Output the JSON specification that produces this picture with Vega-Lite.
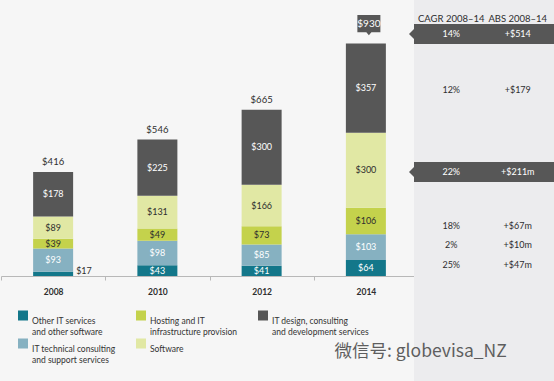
{
  "$schema": "https://vega.github.io/schema/vega-lite/v6.json",
  "background": "#f6f6f6",
  "padding": 0,
  "spacing": 0,
  "bounds": "flush",
  "config": {"view": {"stroke": null}, "font": "Lato"},
  "datasets": {
    "bars": [
      {"year": "2008", "segment": "Other IT services and other software", "rank": 1, "value": 17},
      {"year": "2008", "segment": "IT technical consulting and support services", "rank": 2, "value": 93},
      {"year": "2008", "segment": "Hosting and IT infrastructure provision", "rank": 3, "value": 39},
      {"year": "2008", "segment": "Software", "rank": 4, "value": 89},
      {"year": "2008", "segment": "IT design, consulting and development services", "rank": 5, "value": 178},
      {"year": "2010", "segment": "Other IT services and other software", "rank": 1, "value": 43},
      {"year": "2010", "segment": "IT technical consulting and support services", "rank": 2, "value": 98},
      {"year": "2010", "segment": "Hosting and IT infrastructure provision", "rank": 3, "value": 49},
      {"year": "2010", "segment": "Software", "rank": 4, "value": 131},
      {"year": "2010", "segment": "IT design, consulting and development services", "rank": 5, "value": 225},
      {"year": "2012", "segment": "Other IT services and other software", "rank": 1, "value": 41},
      {"year": "2012", "segment": "IT technical consulting and support services", "rank": 2, "value": 85},
      {"year": "2012", "segment": "Hosting and IT infrastructure provision", "rank": 3, "value": 73},
      {"year": "2012", "segment": "Software", "rank": 4, "value": 166},
      {"year": "2012", "segment": "IT design, consulting and development services", "rank": 5, "value": 300},
      {"year": "2014", "segment": "Other IT services and other software", "rank": 1, "value": 64},
      {"year": "2014", "segment": "IT technical consulting and support services", "rank": 2, "value": 103},
      {"year": "2014", "segment": "Hosting and IT infrastructure provision", "rank": 3, "value": 106},
      {"year": "2014", "segment": "Software", "rank": 4, "value": 300},
      {"year": "2014", "segment": "IT design, consulting and development services", "rank": 5, "value": 357}
    ],
    "totals": [
      {"year": "2008", "total": 416},
      {"year": "2010", "total": 546},
      {"year": "2012", "total": 665},
      {"year": "2014", "total": 930}
    ],
    "table": [
      {"col": "CAGR", "text": "CAGR 2008–14", "level": 1030, "kind": "header"},
      {"col": "ABS", "text": "ABS 2008–14", "level": 1030, "kind": "header"},
      {"col": "CAGR", "text": "14%", "level": 968, "kind": "callout"},
      {"col": "ABS", "text": "+$514", "level": 968, "kind": "callout"},
      {"col": "CAGR", "text": "12%", "level": 744, "kind": "row"},
      {"col": "ABS", "text": "+$179", "level": 744, "kind": "row"},
      {"col": "CAGR", "text": "22%", "level": 416, "kind": "callout"},
      {"col": "ABS", "text": "+$211m", "level": 416, "kind": "callout"},
      {"col": "CAGR", "text": "18%", "level": 200, "kind": "row"},
      {"col": "ABS", "text": "+$67m", "level": 200, "kind": "row"},
      {"col": "CAGR", "text": "2%", "level": 124, "kind": "row"},
      {"col": "ABS", "text": "+$10m", "level": 124, "kind": "row"},
      {"col": "CAGR", "text": "25%", "level": 44, "kind": "row"},
      {"col": "ABS", "text": "+$47m", "level": 44, "kind": "row"}
    ]
  },
  "hconcat": [
    {
      "width": 413,
      "height": 276,
      "layer": [
        {
          "data": {"name": "bars"},
          "transform": [
            {"stack": "value", "groupby": ["year"], "sort": [{"field": "rank", "order": "ascending"}], "as": ["v0", "v1"]}
          ],
          "mark": {"type": "bar", "size": 40},
          "encoding": {
            "x": {
              "field": "year", "type": "ordinal",
              "scale": {"range": [0, 417], "paddingInner": 0, "paddingOuter": 0},
              "axis": {"title": null, "labelAngle": 0, "domainColor": "#b8b8b8", "tickColor": "#b8b8b8", "tickSize": 4, "tickBand": "extent", "labelPadding": 7, "labelFontSize": 8.5, "labelColor": "#2e2e2e", "labelFontWeight": "bold"}
            },
            "y": {"field": "v1", "type": "quantitative", "scale": {"domain": [0, 1104], "nice": false, "zero": false}, "axis": null},
            "y2": {"field": "v0"},
            "color": {
              "field": "segment", "type": "nominal",
              "scale": {
                "domain": ["Other IT services and other software", "Hosting and IT infrastructure provision", "IT design, consulting and development services", "IT technical consulting and support services", "Software"],
                "range": ["#13778a", "#c4d24c", "#575757", "#86b1c1", "#e1e8a4"]
              },
              "legend": {
                "title": null, "orient": "none", "legendX": 17, "legendY": 316, "direction": "horizontal", "columns": 3,
                "symbolType": "M-1,-2.1 L1,-2.1 L1,-0.1 L-1,-0.1 Z", "symbolSize": 100, "symbolStrokeWidth": 0, "symbolOpacity": 1,
                "labelFontSize": 8.5, "labelColor": "#333333", "labelLimit": 250, "labelOffset": 4, "labelBaseline": "middle",
                "rowPadding": 2, "columnPadding": 20, "gridAlign": "each", "padding": 0,
                "labelExpr": "datum.label == 'Other IT services and other software' ? ['Other IT services', 'and other software'] : datum.label == 'Hosting and IT infrastructure provision' ? ['Hosting and IT', 'infrastructure provision'] : datum.label == 'IT design, consulting and development services' ? ['IT design, consulting', 'and development services'] : datum.label == 'IT technical consulting and support services' ? ['IT technical consulting', 'and support services'] : datum.label"
              }
            }
          }
        },
        {
          "data": {"name": "bars"},
          "transform": [
            {"stack": "value", "groupby": ["year"], "sort": [{"field": "rank", "order": "ascending"}], "as": ["v0", "v1"]},
            {"calculate": "(datum.v0 + datum.v1) / 2", "as": "mid"},
            {"filter": "datum.value >= 20"}
          ],
          "mark": {"type": "text", "fontSize": 9, "baseline": "middle"},
          "encoding": {
            "x": {"field": "year", "type": "ordinal"},
            "y": {"field": "mid", "type": "quantitative"},
            "text": {"field": "value", "type": "quantitative", "format": "$,d"},
            "color": {"condition": {"test": "datum.segment == 'Software' || datum.segment == 'Hosting and IT infrastructure provision'", "value": "#2e2e2e"}, "value": "#ffffff"}
          }
        },
        {
          "data": {"name": "bars"},
          "transform": [
            {"stack": "value", "groupby": ["year"], "sort": [{"field": "rank", "order": "ascending"}], "as": ["v0", "v1"]},
            {"calculate": "(datum.v0 + datum.v1) / 2", "as": "mid"},
            {"filter": "datum.value < 20"}
          ],
          "mark": {"type": "text", "fontSize": 9, "baseline": "middle", "align": "left", "dx": 23, "dy": -3, "color": "#2e2e2e"},
          "encoding": {
            "x": {"field": "year", "type": "ordinal"},
            "y": {"field": "mid", "type": "quantitative"},
            "text": {"field": "value", "type": "quantitative", "format": "$,d"}
          }
        },
        {
          "data": {"name": "totals"},
          "transform": [{"filter": "datum.year != '2014'"}],
          "mark": {"type": "text", "fontSize": 9.5, "baseline": "middle", "dy": -10, "color": "#2e2e2e"},
          "encoding": {
            "x": {"field": "year", "type": "ordinal"},
            "y": {"field": "total", "type": "quantitative"},
            "text": {"field": "total", "type": "quantitative", "format": "$,d"}
          }
        },
        {
          "data": {"name": "totals"},
          "transform": [{"filter": "datum.year == '2014'"}],
          "mark": {"type": "point", "filled": true, "opacity": 1, "color": "#575757", "size": 529, "yOffset": -20, "xOffset": 3,
            "shape": "M-1,-0.75 L1,-0.75 L1,0.75 L0.22,0.75 L0,1.02 L-0.22,0.75 L-1,0.75 Z"},
          "encoding": {
            "x": {"field": "year", "type": "ordinal"},
            "y": {"field": "total", "type": "quantitative"}
          }
        },
        {
          "data": {"name": "totals"},
          "transform": [{"filter": "datum.year == '2014'"}],
          "mark": {"type": "text", "fontSize": 10, "baseline": "middle", "dy": -20, "dx": 3, "color": "#ffffff"},
          "encoding": {
            "x": {"field": "year", "type": "ordinal"},
            "y": {"field": "total", "type": "quantitative"},
            "text": {"field": "total", "type": "quantitative", "format": "$,d"}
          }
        }
      ]
    },
    {
      "width": 141,
      "height": 381,
      "view": {"fill": "#ececee", "stroke": null},
      "data": {"name": "table"},
      "layer": [
        {
          "transform": [
            {"filter": "datum.kind == 'callout' && datum.col == 'CAGR'"},
            {"calculate": "datum.level - 40", "as": "lo"},
            {"calculate": "datum.level + 40", "as": "hi"}
          ],
          "mark": {"type": "rect", "color": "#575757"},
          "encoding": {
            "y": {"field": "hi", "type": "quantitative", "scale": {"domain": [-420, 1104], "nice": false, "zero": false}, "axis": null},
            "y2": {"field": "lo"}
          }
        },
        {
          "transform": [{"filter": "datum.kind == 'callout' && datum.col == 'CAGR'"}],
          "mark": {"type": "point", "filled": true, "opacity": 1, "color": "#575757", "size": 100, "shape": "M0,-1 L-1,0 L0,1 Z"},
          "encoding": {
            "x": {"value": 0},
            "y": {"field": "level", "type": "quantitative"}
          }
        },
        {
          "mark": {"type": "text", "baseline": "middle"},
          "encoding": {
            "x": {"field": "col", "type": "nominal", "scale": {"type": "point", "domain": ["CAGR", "ABS"], "padding": 0.56}, "axis": null},
            "y": {"field": "level", "type": "quantitative"},
            "text": {"field": "text"},
            "size": {"condition": {"test": "datum.kind == 'header'", "value": 9.5}, "value": 9},
            "color": {"condition": {"test": "datum.kind == 'callout'", "value": "#ffffff"}, "value": "#2e2e2e"}
          }
        },
        {
          "data": {"values": [{"text": "微信号: globevisa_NZ"}]},
          "mark": {"type": "text", "align": "right", "baseline": "middle", "dx": -11, "font": "Noto Sans CJK SC", "fontSize": 17.5, "color": "#5e5e5e"},
          "encoding": {
            "x": {"datum": "ABS"},
            "y": {"datum": -304},
            "text": {"field": "text"}
          }
        }
      ]
    }
  ]
}
